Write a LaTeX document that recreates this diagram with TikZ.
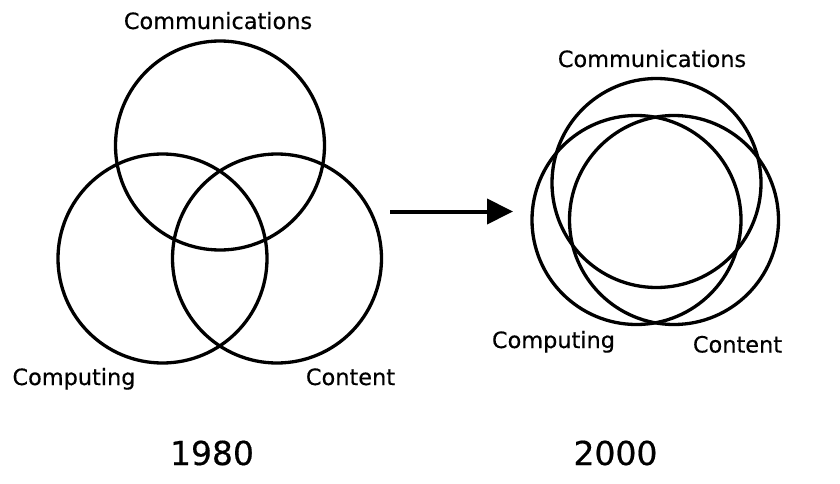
\documentclass[tikz,border=0pt]{standalone}
\usepackage{fontspec}
\setmainfont{DejaVu Sans}
\newfontfamily\labfont[FakeBold=0.4]{DejaVu Sans}
\usetikzlibrary{arrows.meta}
\begin{document}
\begin{tikzpicture}[x=1pt,y=-1pt,
  ring/.style={circle,draw=black,line width=3.3pt,inner sep=0pt,outer sep=0pt,minimum size=209pt},
  lab/.style={anchor=base,inner sep=0pt,font=\labfont\fontsize{22.4pt}{26pt}\selectfont},
  year/.style={anchor=base,inner sep=0pt,font=\labfont\fontsize{33pt}{38pt}\selectfont},
  flow/.style={line width=4pt,-{Triangle[length=26pt,width=25pt]}}]
\useasboundingbox[fill=white] (0,0) rectangle (840,484);
% 1980
\node[ring] (acomm) at (220,145.5) {};
\node[ring] (acomp) at (162.5,258.5) {};
\node[ring] (acont) at (277,258.5) {};
\node[lab] (lacomm) at (218,29) {Communications};
\node[lab] (lacomp) at (74,385) {Computing};
\node[lab] (lacont) at (350.5,385) {Content};
% 2000
\node[ring] (bcomm) at (656.5,183) {};
\node[ring] (bcomp) at (636.5,220) {};
\node[ring] (bcont) at (674,220) {};
\node[lab] (lbcomm) at (652,67) {Communications};
\node[lab] (lbcomp) at (553.5,348) {Computing};
\node[lab] (lbcont) at (737.5,352.5) {Content};
% arrow
\coordinate (as) at (390,211.5);
\coordinate (ae) at (513,211.5);
\draw[flow] (as) -- (ae);
% years
\node[year] (y1) at (212,465) {1980};
\node[year] (y2) at (615.5,465) {2000};
\end{tikzpicture}
\end{document}
